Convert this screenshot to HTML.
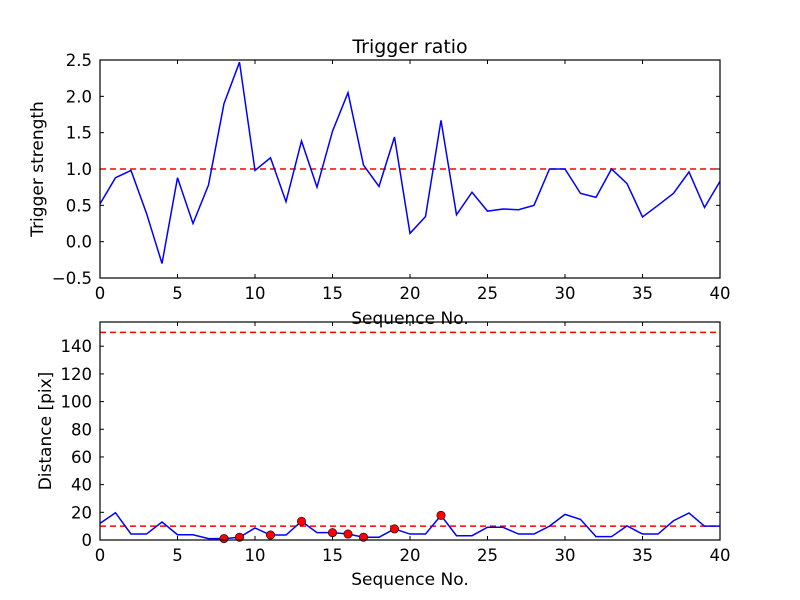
<!DOCTYPE html>
<html><head><meta charset="utf-8"><style>
body{margin:0;background:#fff;}
svg{display:block;font-family:"DejaVu Sans","Liberation Sans",sans-serif;}
</style></head><body>
<svg id="fig" width="800" height="600" viewBox="0 0 800 600" xmlns="http://www.w3.org/2000/svg">
<rect width="800" height="600" fill="#fff"/>
</svg>
<script>
const seq = Array.from({length:41},(_,i)=>i);
const triggerStrength = [0.52,0.88,0.98,0.39,-0.30,0.88,0.25,0.78,1.90,2.47,0.98,1.155,0.55,1.385,0.75,1.52,2.05,1.055,0.76,1.44,0.115,0.345,1.67,0.37,0.68,0.42,0.45,0.44,0.50,1.0,1.0,0.665,0.61,1.0,0.80,0.34,0.50,0.665,0.96,0.47,0.83];
const distance = [12.0,19.7,4.3,4.3,13,3.8,3.8,1,1,2,8.7,3.6,3.6,13.5,5.3,5.3,4.3,2,2,8,4.3,4.3,17.8,3.1,3.1,9.2,9.2,4.3,4.3,10,18.5,14.9,2.4,2.4,10.2,4.3,4.3,13.9,19.5,10,10];
const triggerThreshold = 1.0;
const distThresholds = [10,150];
const xTicks = [0,5,10,15,20,25,30,35,40];
const topYTicks = [-0.5,0.0,0.5,1.0,1.5,2.0,2.5];
const botYTicks = [0,20,40,60,80,100,120,140];

const NS="http://www.w3.org/2000/svg";
const svg=document.getElementById('fig');
function mk(tag,attrs,parent){const e=document.createElementNS(NS,tag);for(const k in attrs)e.setAttribute(k,attrs[k]);(parent||svg).appendChild(e);return e;}

function axes(name,L,R,T,B,xmin,xmax,ymin,ymax,yTicks,yFmt){
  const g=mk('g',{});
  
  
  const sx=v=>L+(v-xmin)/(xmax-xmin)*(R-L);
  const sy=v=>B-(v-ymin)/(ymax-ymin)*(B-T);
  for(const t of xTicks){
    const x=sx(t);
    const a=mk('line',{x1:x,x2:x,y1:B,y2:B-4,stroke:'#000'},g);
    
    mk('line',{x1:x,x2:x,y1:T,y2:T+4,stroke:'#000'},g);
    const tx=mk('text',{x:x,y:B+21,'font-size':16.5,'text-anchor':'middle'},g);
    tx.textContent=t;
    
  }
  for(const t of yTicks){
    const y=sy(t);
    const a=mk('line',{x1:L,x2:L+4,y1:y,y2:y,stroke:'#000'},g);
    
    mk('line',{x1:R,x2:R-4,y1:y,y2:y,stroke:'#000'},g);
    const tx=mk('text',{x:L-8,y:y+6,'font-size':16.5,'text-anchor':'end'},g);
    tx.textContent=yFmt(t);
    
  }
  return {g,sx,sy};
}

// Top chart
const A=axes('trigger-chart',100,720,60,278,0,40,-0.5,2.5,topYTicks,t=>t<0?'\u2212'+Math.abs(t).toFixed(1):t.toFixed(1));
const th=mk('line',{x1:A.sx(0),x2:A.sx(40),y1:A.sy(triggerThreshold),y2:A.sy(triggerThreshold),stroke:'#f00','stroke-width':1.5,'stroke-dasharray':'6,4'},A.g);

const p1=mk('polyline',{points:seq.map((x,i)=>A.sx(x)+','+A.sy(triggerStrength[i])).join(' '),fill:'none',stroke:'#00f','stroke-width':1.5},A.g);

const f1=mk('rect',{x:100,y:60,width:620,height:218,fill:'none',stroke:'#000','stroke-width':1.2},A.g);


// Bottom chart
const B=axes('distance-chart',100,720,322,540,0,40,0,157.5,botYTicks,t=>String(t));
for(const d of distThresholds){
  const l=mk('line',{x1:B.sx(0),x2:B.sx(40),y1:B.sy(d),y2:B.sy(d),stroke:'#f00','stroke-width':1.5,'stroke-dasharray':'6,4'},B.g);
  
}
const p2=mk('polyline',{points:seq.map((x,i)=>B.sx(x)+','+B.sy(distance[i])).join(' '),fill:'none',stroke:'#00f','stroke-width':1.5},B.g);

seq.forEach((x,i)=>{
  if(triggerStrength[i]>triggerThreshold){
    const c=mk('circle',{cx:B.sx(x),cy:B.sy(distance[i]),r:4.2,fill:'#f00',stroke:'#000','stroke-width':0.6},B.g);
    
  }
});
const f2=mk('rect',{x:100,y:322,width:620,height:218,fill:'none',stroke:'#000','stroke-width':1.2},B.g);


// Labels
function label(txt,attrs,name){const t=mk('text',attrs);t.textContent=txt;}
label('Trigger ratio',{x:410,y:53,'font-size':19,'text-anchor':'middle'},'chart-title');
label('Sequence No.',{x:410,y:324,'font-size':17,'text-anchor':'middle'},'x-axis-title');
label('Sequence No.',{x:410,y:585,'font-size':17,'text-anchor':'middle'},'x-axis-title');
label('Trigger strength',{x:43,y:169,'font-size':17,'text-anchor':'middle',transform:'rotate(-90 43 169)'},'y-axis-title');
label('Distance [pix]',{x:51,y:431,'font-size':17,'text-anchor':'middle',transform:'rotate(-90 51 431)'},'y-axis-title');
</script>
</body></html>
